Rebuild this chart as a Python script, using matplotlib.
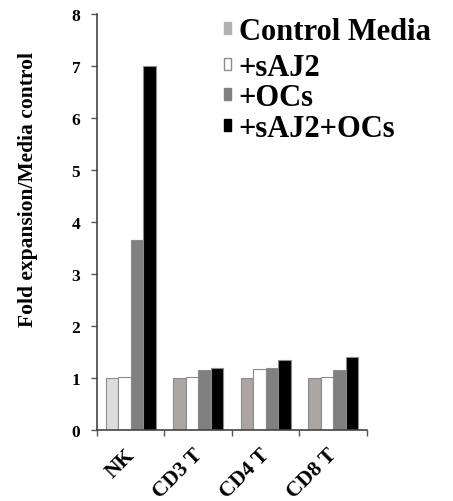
import numpy as np
import matplotlib
matplotlib.use('Agg')
import matplotlib.pyplot as plt
from matplotlib.patches import Patch

plt.rcParams['font.family'] = ['Liberation Serif', 'DejaVu Serif']
plt.rcParams['font.weight'] = 'bold'

# ------------------------------------------------------
#                       DATA
# ------------------------------------------------------
categories = ['NK', 'CD3 T', 'CD4 T', 'CD8 T']
series_names = ['Control Media', '+sAJ2', '+OCs', '+sAJ2+OCs']
control_media = [1.0, 1.0, 1.0, 1.0]
sAJ2 = [1.02, 1.02, 1.18, 1.02]
OCs = [3.65, 1.15, 1.2, 1.15]
sAJ2_OCs = [7.0, 1.2, 1.35, 1.4]
values = [control_media, sAJ2, OCs, sAJ2_OCs]

# NK control bar is lighter than the others in the original figure
control_colors = ['#dcdcdc', '#aba6a4', '#aba6a4', '#aba6a4']
series_colors = [None, '#ffffff', '#808080', '#000000']
legend_colors = ['#b0b0b0', '#ffffff', '#808080', '#000000']

# ------------------------------------------------------
#                       PLOT
# ------------------------------------------------------
fig = plt.figure(figsize=(4.53, 5.02), dpi=100)
ax = fig.add_axes([0.214, 0.141, 0.596, 0.829])

n_series = len(values)
bar_w = 0.185
x = np.arange(len(categories))
for s in range(n_series):
    offs = (s - (n_series - 1) / 2) * bar_w
    col = control_colors if s == 0 else series_colors[s]
    ax.bar(x + offs, values[s], width=bar_w, color=col,
           edgecolor='#8c8c8c', linewidth=0.8)

ax.set_xlim(-0.5, len(categories) - 0.5)
ax.set_ylim(0, 8)
ax.set_yticks(range(0, 9))
ax.set_yticklabels([str(i) for i in range(0, 9)], fontsize=12.5, fontweight='bold')

# category boundaries as ticks, labels in between
ax.set_xticks(np.arange(-0.5, len(categories), 1.0))
ax.set_xticklabels([])
ax.set_xticks(x - 0.09, minor=True)
ax.set_xticklabels(categories, minor=True, rotation=45, ha='right',
                   rotation_mode='anchor', fontsize=15.5, fontweight='bold')
ax.tick_params(axis='x', which='minor', length=0, pad=10)
ax.tick_params(axis='x', which='major', length=4, width=1, color='#555555')
ax.tick_params(axis='y', length=4, width=1, color='#555555', pad=8)

for side in ['top', 'right']:
    ax.spines[side].set_visible(False)
for side in ['left', 'bottom']:
    ax.spines[side].set_color('#444444')
    ax.spines[side].set_linewidth(1.2)

ax.set_ylabel('Fold expansion/Media control', fontsize=15.5, fontweight='bold')
ax.yaxis.set_label_coords(-0.22, 0.58)

def legend_block(idx, y_top, spacing):
    hs = [Patch(facecolor=legend_colors[i],
                edgecolor='#8c8c8c' if legend_colors[i] == '#ffffff' else legend_colors[i])
          for i in idx]
    lg = fig.legend(hs, [series_names[i] for i in idx], loc='upper left',
                    bbox_to_anchor=(0.495, y_top), frameon=False,
                    prop={'family': 'Liberation Serif', 'weight': 'bold', 'size': 22},
                    handlelength=0.22, handleheight=0.22, handletextpad=0.25,
                    labelspacing=0.0 + spacing, borderaxespad=0.0, borderpad=0.0)
    return lg

legend_block([0], 0.964, 0.1)
legend_block([1, 2, 3], 0.893, 0.05)

fig.savefig('out.png', dpi=100)
